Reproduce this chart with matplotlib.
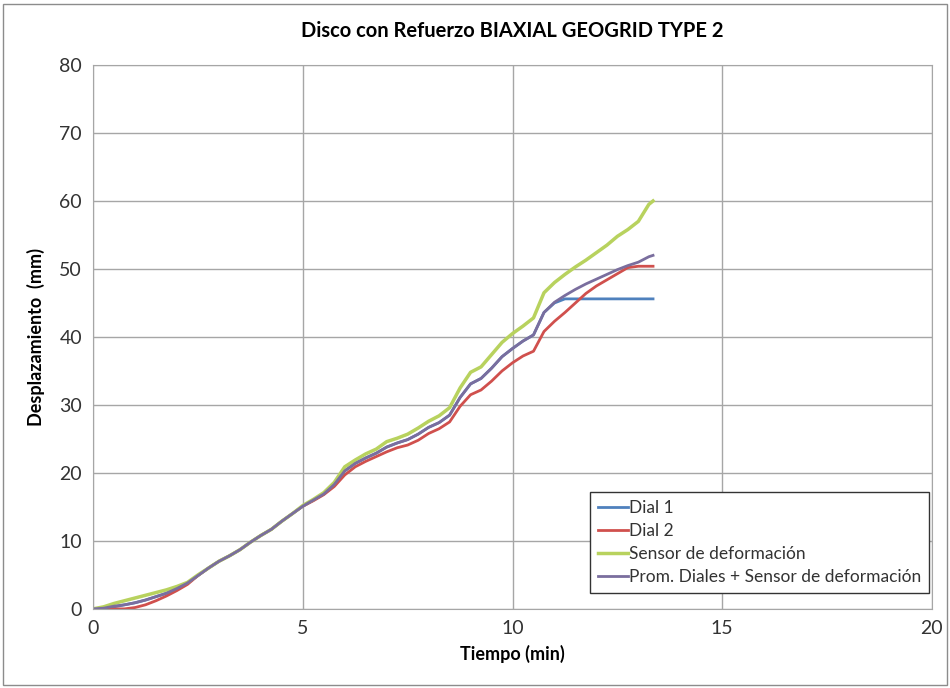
import matplotlib.pyplot as plt
from matplotlib.patches import Rectangle

plt.rcParams['font.family'] = ['Lato', 'DejaVu Sans']

# tiempo (min)
tiempo = [0, 0.25, 0.5, 0.75, 1.0, 1.25, 1.5, 1.75, 2.0, 2.25, 2.5, 2.75, 3.0, 3.25,
          3.5, 3.75, 4.0, 4.25, 4.5, 4.75, 5.0, 5.25, 5.5, 5.75, 6.0, 6.25, 6.5, 6.75,
          7.0, 7.25, 7.5, 7.75, 8.0, 8.25, 8.5, 8.75, 9.0, 9.25, 9.5, 9.75, 10.0, 10.25,
          10.5, 10.75, 11.0, 11.25, 11.5, 11.75, 12.0, 12.25, 12.5, 12.75, 13.0, 13.25, 13.35]

dial1 = [0, 0.1, 0.3, 0.6, 0.9, 1.3, 1.8, 2.3, 3.0, 3.8, 4.9, 6.0, 7.0, 7.8,
         8.7, 9.8, 10.8, 11.7, 12.9, 14.0, 15.1, 16.0, 16.9, 18.3, 20.3, 21.4, 22.2, 22.9,
         23.8, 24.4, 24.9, 25.7, 26.7, 27.4, 28.5, 31.1, 33.1, 33.9, 35.4, 37.1, 38.3, 39.4,
         40.3, 43.6, 45.0, 45.6, 45.6, 45.6, 45.6, 45.6, 45.6, 45.6, 45.6, 45.6, 45.6]

dial2 = [0, 0.0, 0.0, 0.0, 0.2, 0.6, 1.2, 1.9, 2.7, 3.6, 4.9, 6.0, 7.0, 7.8,
         8.7, 9.8, 10.8, 11.7, 12.9, 14.0, 15.1, 15.9, 16.8, 18.0, 19.7, 20.9, 21.7, 22.4,
         23.1, 23.7, 24.1, 24.8, 25.8, 26.5, 27.5, 29.8, 31.5, 32.2, 33.5, 35.0, 36.2, 37.2,
         37.9, 40.8, 42.3, 43.6, 45.0, 46.4, 47.5, 48.4, 49.3, 50.2, 50.4, 50.4, 50.4]

sensor = [0, 0.3, 0.8, 1.2, 1.6, 2.0, 2.4, 2.8, 3.3, 3.9, 5.0, 6.0, 7.0, 7.8,
          8.7, 9.8, 10.8, 11.7, 12.9, 14.0, 15.2, 16.1, 17.1, 18.6, 20.9, 21.9, 22.8, 23.5,
          24.6, 25.1, 25.7, 26.6, 27.6, 28.4, 29.6, 32.5, 34.8, 35.6, 37.4, 39.2, 40.5, 41.6,
          42.8, 46.5, 48.0, 49.2, 50.3, 51.3, 52.4, 53.5, 54.8, 55.8, 57.0, 59.5, 60.0]

promedio = [0, 0.1, 0.4, 0.6, 0.9, 1.3, 1.8, 2.3, 3.0, 3.8, 4.9, 6.0, 7.0, 7.8,
            8.7, 9.8, 10.8, 11.7, 12.9, 14.0, 15.1, 16.0, 16.9, 18.3, 20.3, 21.4, 22.2, 22.9,
            23.8, 24.4, 24.9, 25.7, 26.7, 27.4, 28.5, 31.1, 33.1, 33.9, 35.4, 37.1, 38.3, 39.4,
            40.3, 43.6, 45.1, 46.1, 47.0, 47.8, 48.5, 49.2, 49.9, 50.5, 51.0, 51.8, 52.0]

fig = plt.figure(figsize=(9.5, 6.88), dpi=100)
ax = fig.add_axes([0.098, 0.115, 0.883, 0.7905])

ax.plot(tiempo, dial1, color='#4F81BD', lw=2, label='Dial 1')
ax.plot(tiempo, dial2, color='#D0504D', lw=2, label='Dial 2')
ax.plot(tiempo, sensor, color='#B8D25E', lw=2.5, label='Sensor de deformación')
ax.plot(tiempo, promedio, color='#7A6E9E', lw=2, label='Prom. Diales + Sensor de deformación')

ax.set_xlim(0, 20)
ax.set_ylim(0, 80)
ax.set_xticks([0, 5, 10, 15, 20])
ax.set_yticks(range(0, 81, 10))
ax.grid(True, color='#A6A6A6', lw=1)
ax.set_axisbelow(True)
for s in ax.spines.values():
    s.set_color('#A6A6A6')
ax.tick_params(length=0, labelsize=14, colors='#333333', pad=8)

ax.set_title('Disco con Refuerzo BIAXIAL GEOGRID TYPE 2', fontsize=14.5, fontweight='bold', pad=20)
ax.set_xlabel('Tiempo (min)', fontsize=13, fontweight='bold', labelpad=6)
ax.set_ylabel('Desplazamiento  (mm)', fontsize=13, fontweight='bold', labelpad=10)

leg = ax.legend(loc='lower right', bbox_to_anchor=(0.997, 0.03), fontsize=12.5,
                handlelength=1.7, handletextpad=0.1, borderpad=0.45, labelspacing=0.4,
                fancybox=False, framealpha=1, borderaxespad=0)
leg.get_frame().set_edgecolor('#333333')
leg.get_frame().set_linewidth(1)
for t in leg.get_texts():
    t.set_color('#333333')

fig.patches.append(Rectangle((0.003, 0.004), 0.994, 0.99, transform=fig.transFigure,
                             fill=False, edgecolor='#8C8C8C', lw=1))

fig.savefig('out.png', dpi=100)
